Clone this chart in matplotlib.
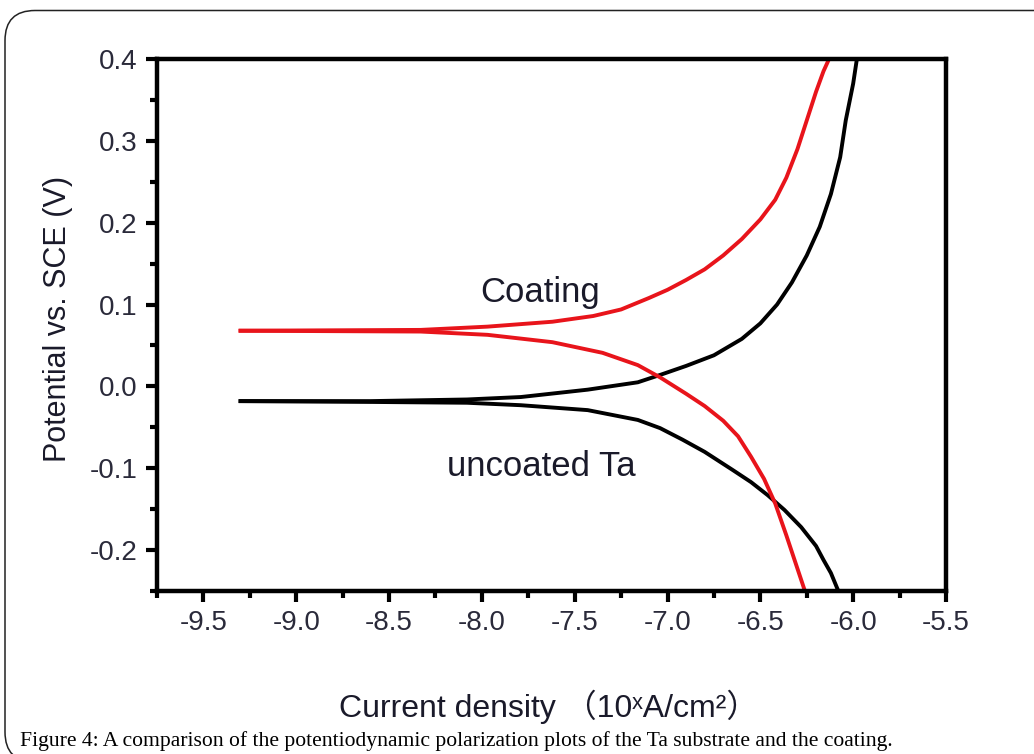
import matplotlib
matplotlib.use("Agg")
import matplotlib.pyplot as plt
from matplotlib.patches import FancyBboxPatch
from matplotlib.transforms import IdentityTransform
from matplotlib.ticker import MultipleLocator

plt.rcParams['axes.unicode_minus'] = False
plt.rcParams['font.family'] = ['Liberation Sans', 'DejaVu Sans']

# uncoated Ta: anodic (upper) and cathodic (lower) branches, log current vs potential
ta_up_x = [-9.30, -8.60, -8.08, -7.79, -7.43, -7.16, -7.04, -6.90, -6.75, -6.60,
           -6.50, -6.41, -6.33, -6.25, -6.18, -6.12, -6.07, -6.04, -6.00, -5.98]
ta_up_y = [-0.018, -0.018, -0.016, -0.013, -0.004, 0.005, 0.014, 0.025, 0.038, 0.058,
           0.077, 0.100, 0.127, 0.160, 0.195, 0.235, 0.280, 0.325, 0.370, 0.400]
ta_dn_x = [-9.30, -8.60, -8.08, -7.79, -7.43, -7.16, -7.04, -6.92, -6.80, -6.65,
           -6.55, -6.46, -6.37, -6.28, -6.20, -6.16, -6.12, -6.08]
ta_dn_y = [-0.018, -0.019, -0.020, -0.023, -0.029, -0.041, -0.051, -0.065, -0.080, -0.102,
           -0.117, -0.133, -0.151, -0.172, -0.195, -0.212, -0.228, -0.250]

# coating
co_up_x = [-9.30, -8.33, -7.97, -7.62, -7.40, -7.25, -7.10, -7.00, -6.90, -6.80,
           -6.70, -6.60, -6.50, -6.42, -6.36, -6.30, -6.25, -6.20, -6.16, -6.13]
co_up_y = [0.068, 0.069, 0.073, 0.079, 0.086, 0.094, 0.108, 0.118, 0.130, 0.143,
           0.160, 0.180, 0.204, 0.228, 0.255, 0.290, 0.325, 0.360, 0.385, 0.400]
co_dn_x = [-9.30, -8.33, -7.97, -7.62, -7.35, -7.16, -7.04, -6.90, -6.80, -6.70,
           -6.62, -6.55, -6.48, -6.42, -6.36, -6.31, -6.26]
co_dn_y = [0.068, 0.067, 0.063, 0.054, 0.041, 0.026, 0.011, -0.009, -0.024, -0.042,
           -0.061, -0.086, -0.113, -0.143, -0.182, -0.216, -0.250]

x_ticks = [-9.5, -9.0, -8.5, -8.0, -7.5, -7.0, -6.5, -6.0, -5.5]
y_ticks = [-0.2, -0.1, 0.0, 0.1, 0.2, 0.3, 0.4]

fig = plt.figure(figsize=(10.34, 7.54), dpi=100)
ax = fig.add_axes([157 / 1034, 1 - 591 / 754, (946 - 157) / 1034, (591 - 59) / 754])

lw = 2.8
red = '#e8141b'
ax.plot(ta_up_x, ta_up_y, color='black', lw=lw, solid_joinstyle='round')
ax.plot(ta_dn_x, ta_dn_y, color='black', lw=lw, solid_joinstyle='round')
ax.plot(co_up_x, co_up_y, color=red, lw=lw, solid_joinstyle='round')
ax.plot(co_dn_x, co_dn_y, color=red, lw=lw, solid_joinstyle='round')

ax.set_xlim(-9.75, -5.5)
ax.set_ylim(-0.25, 0.4)
ax.set_xticks(x_ticks)
ax.set_yticks(y_ticks)
ax.set_xticklabels([f'{v:.1f}' for v in x_ticks])
ax.set_yticklabels([f'{v:.1f}' for v in y_ticks])
ax.xaxis.set_minor_locator(MultipleLocator(0.25))
ax.yaxis.set_minor_locator(MultipleLocator(0.05))

for s in ax.spines.values():
    s.set_linewidth(3.2)
ax.tick_params(which='major', direction='out', length=8, width=3, labelsize=20,
               colors='black', labelcolor='#2a2a3a', pad=6)
ax.tick_params(which='minor', direction='out', length=5, width=3)

ax.text(-8.01, 0.115, 'Coating', fontsize=25, color='#1a1a2a', ha='left', va='center')
ax.text(-8.19, -0.098, 'uncoated Ta', fontsize=25, color='#1a1a2a', ha='left', va='center')

fig.text(58 / 1034, 1 - 319 / 754, 'Potential vs. SCE (V)', rotation=90, fontsize=22,
         ha='center', va='center', color='#1a1a2a')
fig.text(549 / 1034, 1 - 707 / 754, 'Current density （10ˣA/cm²）', fontsize=23,
         ha='center', va='center', color='#1a1a2a',
         family=['Liberation Sans', 'DejaVu Sans', 'Noto Sans CJK SC'])
fig.text(20 / 1034, 1 - 741 / 754,
         'Figure 4: A comparison of the potentiodynamic polarization plots of the Ta substrate and the coating.',
         fontsize=15.6, ha='left', va='center', color='black', family='Liberation Serif')

frame = FancyBboxPatch((5, -8), 1060, 754 - 10.5 + 8,
                       boxstyle='round,pad=0,rounding_size=30',
                       transform=IdentityTransform(), fill=False,
                       edgecolor='#222222', lw=1.1)
fig.patches.append(frame)

fig.savefig('out.png', dpi=100)
